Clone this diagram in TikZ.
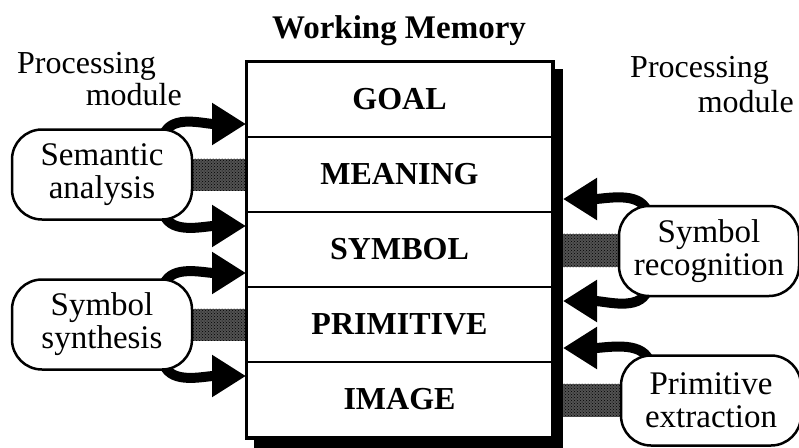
\documentclass[tikz,border=0pt]{standalone}
\usepackage{fontspec}
\setmainfont{Liberation Serif}
\usetikzlibrary{arrows.meta,calc,patterns,backgrounds}

\begin{document}
\begin{tikzpicture}[x=1pt,y=-1pt,
  txt/.style={font=\fontsize{32}{34}\selectfont, inner sep=0pt},
  row/.style={draw, fill=white, line width=2pt, minimum width=305pt, minimum height=75pt,
    inner sep=0pt, font=\fontsize{32}{34}\selectfont\bfseries},
  module/.style={draw, fill=white, line width=2.5pt, rounded corners=30pt,
    minimum width=180pt, minimum height=90pt, align=center,
    font=\fontsize{33}{33}\selectfont, inner sep=0pt},
  flow/.style={line width=10pt, -{Triangle[length=34pt,width=40pt]}},
  band/.style={fill=black!68, postaction={pattern=crosshatch dots, pattern color=black}},
]
\useasboundingbox (0,0) rectangle (799,447);

% headings
\node[txt, font=\fontsize{33}{35}\selectfont\bfseries, anchor=base] (title) at (399,38) {Working Memory};
\node[txt, anchor=base west] (pl1) at (17,73) {Processing};
\node[txt, anchor=base east] (pl2) at (182,105) {module};
\node[txt, anchor=base west] (pr1) at (630,77) {Processing};
\node[txt, anchor=base east] (pr2) at (794,112) {module};

% working memory levels
\node[row] (goal)      at (399.5, 99.5) {GOAL};
\node[row] (meaning)   at (399.5,174.5) {MEANING};
\node[row] (symbol)    at (399.5,249.5) {SYMBOL};
\node[row] (primitive) at (399.5,324.5) {PRIMITIVE};
\node[row] (image)     at (399.5,399.5) {IMAGE};
\draw[line width=3pt] (goal.north west) rectangle (image.south east);

% processing modules
\node[module] (sem)  at (102,174.5) {Semantic\\analysis};
\node[module] (ssyn) at (102,324.5) {Symbol\\synthesis};
\node[module] (srec) at (709,251)   {Symbol\\recognition};
\node[module] (pext) at (711,400.5) {Primitive\\extraction};

\begin{scope}[on background layer]
  % read links
  \fill[band] ($(sem.east)+(-4,-16)$)  rectangle ($(meaning.west)+(0,16)$);
  \fill[band] ($(ssyn.east)+(-4,-16)$) rectangle ($(primitive.west)+(0,16)$);
  \fill[band] ($(symbol.east)+(0,-16)$) rectangle ($(srec.west)+(4,16)$);
  \fill[band] ($(image.east)+(0,-16)$)  rectangle ($(pext.west)+(4,16)$);
  % write links
  \draw[flow] ($(sem.north)+(62,6)$)   .. controls +(8,-20) and +(-42,0) .. ($(goal.south west)+(0,-14)$);
  \draw[flow] ($(sem.south)+(62,-6)$)  .. controls +(8,20)  and +(-42,0) .. ($(symbol.north west)+(0,15)$);
  \draw[flow] ($(ssyn.north)+(62,6)$)  .. controls +(8,-20) and +(-42,0) .. ($(symbol.south west)+(0,-15)$);
  \draw[flow] ($(ssyn.south)+(62,-6)$) .. controls +(8,20)  and +(-42,0) .. ($(image.north west)+(0,15)$);
  \draw[flow] ($(srec.north)+(-62,6)$)  .. controls +(-8,-20) and +(42,0) .. ($(meaning.south east)+(10,-14)$);
  \draw[flow] ($(srec.south)+(-62,-6)$) .. controls +(-8,20)  and +(42,0) .. ($(primitive.north east)+(10,15)$);
  \draw[flow] ($(pext.north)+(-62,6)$)  .. controls +(-8,-20) and +(42,0) .. ($(primitive.south east)+(10,-15)$);
  % drop shadow of the memory box
  \fill ($(goal.north west)+(8,8)$) rectangle ($(image.south east)+(10,10)$);
\end{scope}
\end{tikzpicture}
\end{document}
